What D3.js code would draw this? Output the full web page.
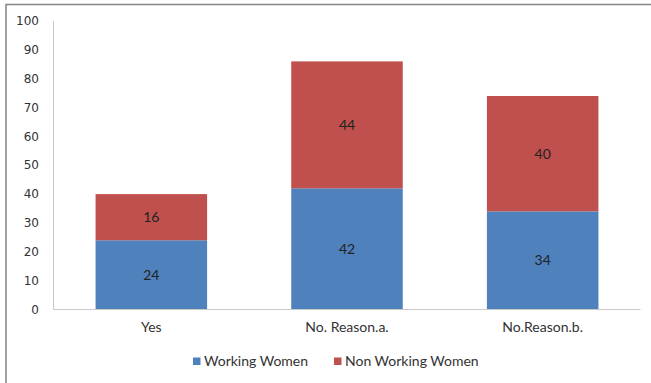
<!DOCTYPE html>
<html>
<head>
<meta charset="utf-8">
<script src="https://cdn.jsdelivr.net/npm/d3@7"></script>
<style>
  html, body { margin: 0; padding: 0; background: #fff; }
  svg { display: block; }
</style>
</head>
<body>
<svg id="chart" width="651" height="383"></svg>
<script>
const categories = ["Yes", "No. Reason.a.", "No.Reason.b."];
const seriesNames = ["Working Women", "Non Working Women"];
const working = [24, 42, 34];
const nonWorking = [16, 44, 40];
const yTicks = [0, 10, 20, 30, 40, 50, 60, 70, 80, 90, 100];
const colors = ["#4F81BD", "#C0504D"];

const svg = d3.select("#chart");

// outer frame
svg.append("rect")
  .attr("x", 6).attr("y", 4.5).attr("width", 700).attr("height", 400)
  .attr("fill", "none").attr("stroke", "#8a8a8a").attr("stroke-width", 1.6);

const x = d3.scaleBand().domain(categories).range([53.5, 640.5])
  .paddingInner(0.43).paddingOuter(0.215);
const y = d3.scaleLinear().domain([0, 100]).range([309.5, 21]);

const table = categories.map((c, i) => ({cat: c, "Working Women": working[i], "Non Working Women": nonWorking[i]}));
const stacked = d3.stack().keys(seriesNames)(table);

// axes lines
svg.append("line").attr("x1", 53.5).attr("x2", 53.5).attr("y1", y(100)).attr("y2", y(0))
  .attr("stroke", "#c8c8c8").attr("stroke-width", 1);

// y tick labels
svg.append("g").selectAll("text").data(yTicks).join("text")
  .attr("x", 39).attr("y", d => y(d)).attr("dy", "0.35em")
  .attr("text-anchor", "end")
  .attr("font-family", "DejaVu Sans, sans-serif").attr("font-size", 12)
  .attr("fill", "#333").text(d => d);

// bars
const groups = svg.append("g").selectAll("g").data(stacked).join("g")
  .attr("fill", (d, i) => colors[i]);
groups.selectAll("rect").data(d => d).join("rect")
  .attr("x", d => x(d.data.cat))
  .attr("width", x.bandwidth())
  .attr("y", d => y(d[1]))
  .attr("height", d => y(d[0]) - y(d[1]));

// value labels
svg.append("g").selectAll("g").data(stacked).join("g")
  .selectAll("text").data(d => d.map(v => ({v, val: v[1] - v[0]}))).join("text")
  .attr("x", d => x(d.v.data.cat) + x.bandwidth() / 2)
  .attr("y", d => (y(d.v[0]) + y(d.v[1])) / 2)
  .attr("dy", "0.35em").attr("text-anchor", "middle")
  .attr("font-family", "Lato, sans-serif").attr("font-size", 14)
  .attr("fill", "#222").text(d => d.val);

// x axis line
svg.append("line").attr("x1", 53.5).attr("x2", 640.5).attr("y1", y(0)).attr("y2", y(0))
  .attr("stroke", "#c8c8c8").attr("stroke-width", 1.2);

// category labels
svg.append("g").selectAll("text").data(categories).join("text")
  .attr("x", d => x(d) + x.bandwidth() / 2).attr("y", 327)
  .attr("dy", "0.35em").attr("text-anchor", "middle")
  .attr("font-family", "Lato, sans-serif").attr("font-size", 14)
  .attr("fill", "#333").text(d => d);

// legend
const legendX = [193, 334];
const lg = svg.append("g").selectAll("g").data(seriesNames).join("g")
  .attr("transform", (d, i) => `translate(${legendX[i]},357.5)`);
lg.append("rect").attr("width", 7.5).attr("height", 7.5).attr("fill", (d, i) => colors[i]);
lg.append("text").attr("x", 11).attr("y", 4).attr("dy", "0.35em")
  .attr("font-family", "Lato, sans-serif").attr("font-size", 14)
  .attr("fill", "#333").text(d => d);
</script>
</body>
</html>
